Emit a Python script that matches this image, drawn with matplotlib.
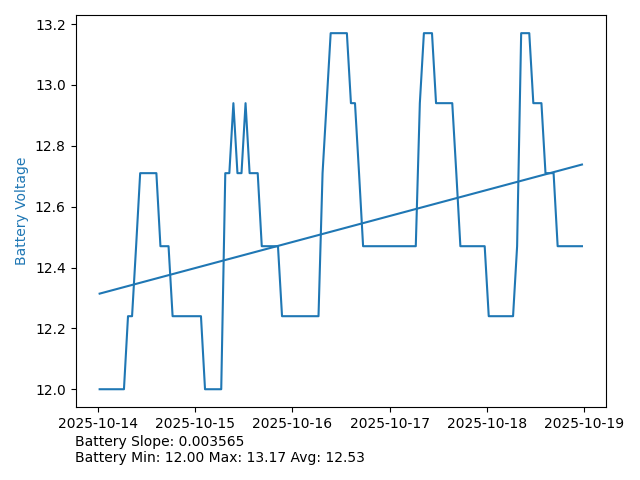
import numpy as np
import pandas as pd
import matplotlib
matplotlib.use("Agg")
import matplotlib.pyplot as plt

start = "2025-10-14 00:25"
voltage = (
    [12.00] * 7 + [12.24] * 2 + [12.47] + [12.71] * 5 + [12.47] * 3 + [12.24] * 8
    + [12.00] * 5 + [12.71] * 2 + [12.94] + [12.71] * 2 + [12.94] + [12.71] * 3
    + [12.47] * 5 + [12.24] * 10 + [12.71] + [12.94] + [13.17] * 5 + [12.94] * 2
    + [12.71] + [12.47] * 14 + [12.94] + [13.17] * 3 + [12.94] * 5 + [12.71]
    + [12.47] * 7 + [12.24] * 7 + [12.47] + [13.17] * 3 + [12.94] * 3
    + [12.71] * 3 + [12.47] * 7
)
slope_text = "Battery Slope: 0.003565"
stats_text = "Battery Min: 12.00 Max: 13.17 Avg: 12.53"

times = pd.date_range(start, periods=len(voltage), freq="h")
v = np.array(voltage)
hours = (times - times[0]).total_seconds() / 3600.0
coef = np.polyfit(hours, v, 1)
trend = np.polyval(coef, hours)

fig = plt.figure(figsize=(6.4, 4.8), dpi=100)
ax = fig.add_axes([0.118, 0.152, 0.829, 0.816])
ax.plot(times, v, color="tab:blue")
ax.plot(times, trend, color="tab:blue")
ax.set_ylabel("Battery Voltage", color="tab:blue")
ax.xaxis.set_major_locator(matplotlib.dates.DayLocator())
ax.xaxis.set_major_formatter(matplotlib.dates.DateFormatter("%Y-%m-%d"))
fig.text(0.117, 0.094, slope_text + "\n" + stats_text, va="top", ha="left", fontsize=10)
fig.savefig("out.png", dpi=100)
